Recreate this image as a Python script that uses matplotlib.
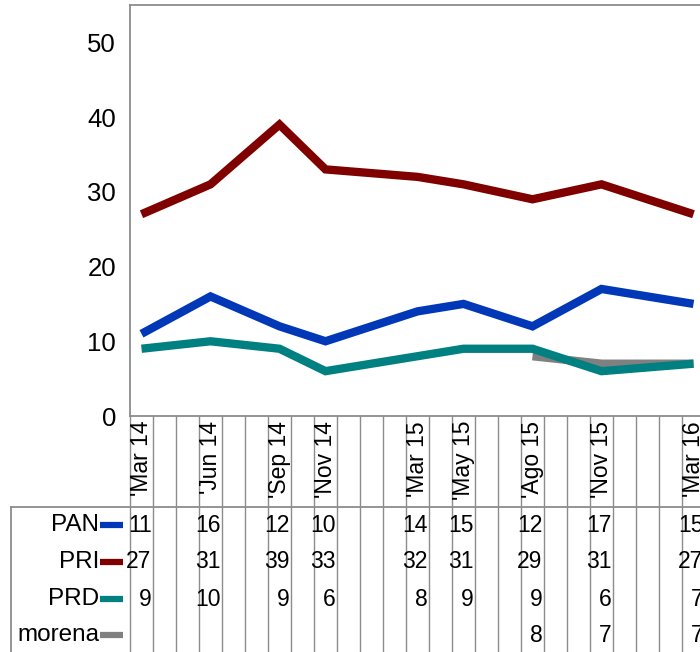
import matplotlib
matplotlib.use("Agg")
import matplotlib.pyplot as plt
import numpy as np

plt.rcParams['font.family'] = ['Liberation Sans', 'DejaVu Sans']

# monthly categories Mar 14 .. Mar 16 (25 slots); labels only where surveyed
months = ["'Mar 14", "", "", "'Jun 14", "", "", "'Sep 14", "", "'Nov 14", "", "", "",
          "'Mar 15", "", "'May 15", "", "", "'Ago 15", "", "", "'Nov 15", "", "", "", "'Mar 16"]
survey_idx = [0, 3, 6, 8, 12, 14, 17, 20, 24]

series_names = ["PAN", "PRI", "PRD", "morena"]
pan = [11, 16, 12, 10, 14, 15, 12, 17, 15]
pri = [27, 31, 39, 33, 32, 31, 29, 31, 27]
prd = [9, 10, 9, 6, 8, 9, 9, 6, 7]
morena_idx = [17, 20, 24]
morena = [8, 7, 7]

colors = {"PAN": "#0038B8", "PRI": "#800000", "PRD": "#008080", "morena": "#808080"}
yticks = [0, 10, 20, 30, 40, 50]

W, H = 700, 652
fig = plt.figure(figsize=(W / 100, H / 100), dpi=100)

cw = 23.0  # column width px
n = len(months)
left_px, bottom_px, top_px = 130, 416, 5
right_px = left_px + n * cw

ax = fig.add_axes([left_px / W, (H - bottom_px) / H, (right_px - left_px) / W, (bottom_px - top_px) / H])
ax.set_xlim(-0.5, n - 0.5)
ax.set_ylim(0, 55)
ax.set_yticks(yticks)
ax.set_yticklabels([str(v) for v in yticks], fontsize=18.5)
ax.tick_params(axis='y', length=0, pad=10)
ax.set_xticks([])
for s in ['right']:
    ax.spines[s].set_visible(False)
for s in ['left', 'top', 'bottom']:
    ax.spines[s].set_color('#8c8c8c')
    ax.spines[s].set_linewidth(1.3)

lw = 6.0
ax.plot(morena_idx, morena, color=colors["morena"], lw=lw, solid_capstyle='butt', solid_joinstyle='miter', zorder=2)
ax.plot(survey_idx, pan, color=colors["PAN"], lw=lw, solid_capstyle='butt', solid_joinstyle='miter', zorder=3)
ax.plot(survey_idx, pri, color=colors["PRI"], lw=lw, solid_capstyle='butt', solid_joinstyle='miter', zorder=3)
ax.plot(survey_idx, prd, color=colors["PRD"], lw=lw, solid_capstyle='butt', solid_joinstyle='miter', zorder=3)

# table axes: x in category units, y in pixels from top
tx0 = -0.5 - left_px / cw
tax = fig.add_axes([0, 0, right_px / W, (H - bottom_px) / H])
tax.set_xlim(tx0, n - 0.5)
tax.set_ylim(H, bottom_px)
tax.axis('off')

gc = '#8c8c8c'
header_bottom = 506.5
# vertical cell lines
for k in range(n + 1):
    tax.plot([k - 0.5, k - 0.5], [bottom_px, H], color=gc, lw=1.0, clip_on=False)
# table outline
tax.plot([tx0 + 10.7 / cw, n - 0.5], [header_bottom, header_bottom], color=gc, lw=1.3, clip_on=False)
tax.plot([tx0 + 10.7 / cw, tx0 + 10.7 / cw], [header_bottom, H], color=gc, lw=1.3, clip_on=False)

# category labels
for k, lab in enumerate(months):
    if lab:
        tax.text(k + 0.02, 421, lab, rotation=90, ha='center', va='top', fontsize=16.5, clip_on=False)

row_y = [525, 562, 599, 635]
vals = {"PAN": dict(zip(survey_idx, pan)), "PRI": dict(zip(survey_idx, pri)),
        "PRD": dict(zip(survey_idx, prd)), "morena": dict(zip(morena_idx, morena))}
for name, y in zip(series_names, row_y):
    tax.text(tx0 + 99 / cw, y, name, ha='right', va='center', fontsize=17.5)
    tax.plot([tx0 + 100 / cw, tx0 + 123 / cw], [y, y], color=colors[name], lw=4.5, solid_capstyle='butt')
    for k, v in vals[name].items():
        tax.text(k + 0.5 - 1.5 / cw, y, str(v), ha='right', va='center', fontsize=16.5)

fig.savefig("out.png", dpi=100)
